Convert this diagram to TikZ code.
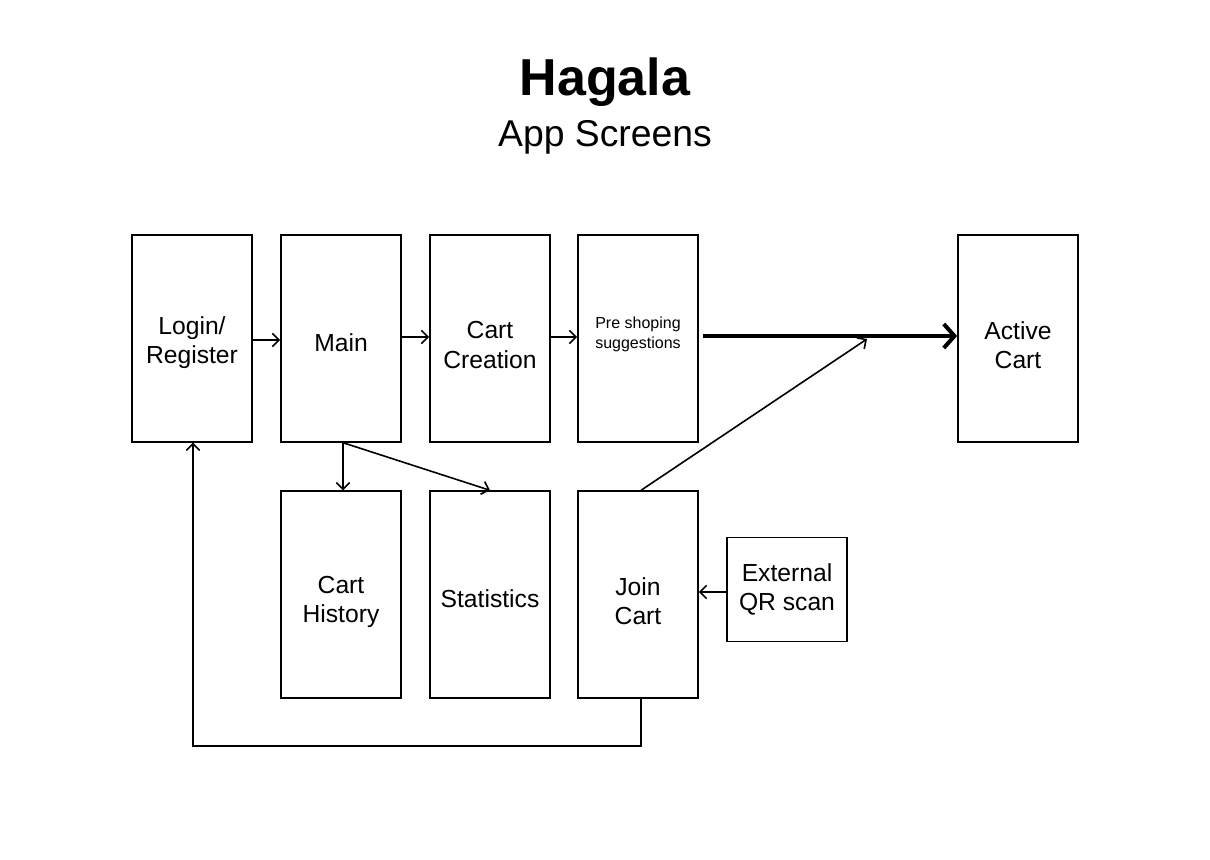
\documentclass[tikz,border=0pt]{standalone}
\usepackage{fontspec}
\setmainfont{Liberation Sans}
\usetikzlibrary{arrows.meta}

\tikzset{
  screen/.style={draw, line width=1.3pt, minimum width=90pt, minimum height=155pt, inner sep=0pt},
  txt/.style={align=center, font=\fontsize{18.5}{22}\selectfont, yshift=-3pt},
  flow/.style={line width=1.2pt, -{Straight Barb[length=5pt, width=10pt]}},
  bigflow/.style={line width=3pt, -{Straight Barb[length=8pt, width=18pt, line width=3pt]}}
}

\begin{document}
\begin{tikzpicture}[x=0.75pt, y=-0.75pt]

\useasboundingbox (0,0) rectangle (1210,860);

% title
\node[font=\bfseries\fontsize{39}{44}\selectfont] (title) at (605,82) {Hagala};
\node[font=\fontsize{28}{32}\selectfont] (subtitle) at (605,137) {App Screens};

% top row
\node[screen, label={[txt]center:Login/\\Register}] (login) at (192,338.5) {};
\node[screen, label={[txt, yshift=0pt]center:Main}] (main) at (341,338.5) {};
\node[screen, label={[txt, yshift=-2pt]center:Cart\\Creation}] (creation) at (490,338.5) {};
\node[screen, label={[txt, font=\fontsize{12}{14.5}\selectfont, yshift=6pt]center:Pre shoping\\suggestions}] (pre) at (638,338.5) {};
\node[screen, label={[txt, yshift=-2pt]center:Active\\Cart}] (active) at (1018,338.5) {};

% bottom row
\node[screen, label={[txt, yshift=-2.5pt]center:Cart\\History}] (history) at (341,594.5) {};
\node[screen, label={[txt, yshift=0pt]center:Statistics}] (stats) at (490,594.5) {};
\node[screen, label={[txt, yshift=-2pt]center:Join\\Cart}] (join) at (638,594.5) {};
\node[screen, minimum height=78pt, label={[txt, yshift=3pt]center:External\\QR scan}] (qr) at (787,589.5) {};

\coordinate (merge) at (867,339);

% connectors
\draw[flow] (login.east |- 0,340) -- (main.west |- 0,340);
\draw[flow] (main.east |- 0,337) -- (creation.west |- 0,337);
\draw[flow] (creation.east |- 0,337) -- (pre.west |- 0,337);
\draw[bigflow, shorten <=3pt] (pre.east |- 0,336) -- (active.west |- 0,336);

\draw[flow] ([xshift=1.5pt]main.south) -- ([xshift=1.5pt]history.north);
\draw[flow] ([xshift=1.5pt]main.south) -- (stats.north);
\draw[flow] ([xshift=2.25pt]join.north) -- (merge);
\draw[flow] (qr.west |- 0,592) -- (join.east |- 0,592);
\draw[flow] ([xshift=2.25pt]join.south) -- ++(0,47) -| ([xshift=0.75pt]login.south);

\end{tikzpicture}
\end{document}
